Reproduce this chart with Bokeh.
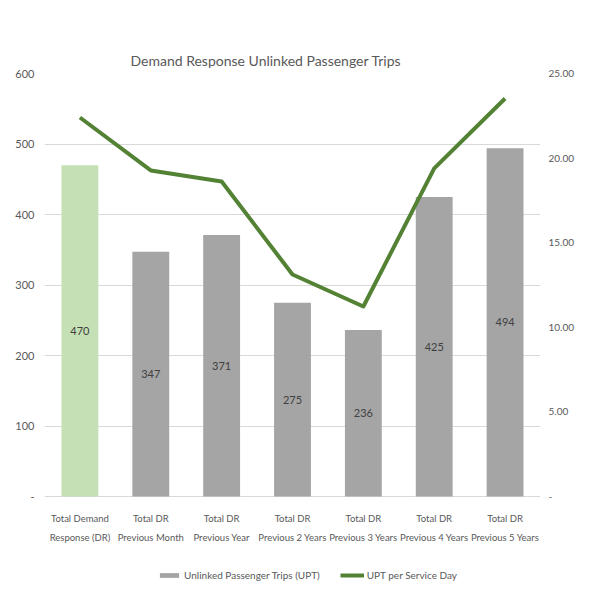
from bokeh.plotting import figure
from bokeh.models import (ColumnDataSource, Range1d, LinearAxis, FixedTicker,
                          Legend, LegendItem, Title)
from bokeh.embed import file_html
from bokeh.resources import INLINE
from bokeh.core.properties import value

# ---- data ----
categories = ["Total Demand\nResponse (DR)", "Total DR\nPrevious Month",
              "Total DR\nPrevious Year", "Total DR\nPrevious 2 Years",
              "Total DR\nPrevious 3 Years", "Total DR\nPrevious 4 Years",
              "Total DR\nPrevious 5 Years"]
upt = [470, 347, 371, 275, 236, 425, 494]
upt_per_day = [22.4, 19.27, 18.62, 13.12, 11.23, 19.39, 23.52]
left_ticks = [0, 100, 200, 300, 400, 500, 600]
left_tick_labels = ["-", "100", "200", "300", "400", "500", "600"]
right_ticks = [0, 5, 10, 15, 20, 25]
right_tick_labels = ["-", "5.00", "10.00", "15.00", "20.00", "25.00"]
title_text = "Demand Response Unlinked Passenger Trips"
bar_series = "Unlinked Passenger Trips (UPT)"
line_series = "UPT per Service Day"

FONT = "Lato"
TXT = "#595959"
GRID = "#D9D9D9"
GRAY = "#A5A5A5"
LIGHT_GREEN = "#C5E0B4"
GREEN = "#548235"

# layout (pixels)
PLOT_H = 423          # height of the 0..600 value area
BELOW_H = 88          # room under the zero line for category labels + legend
L_MAX = max(left_ticks)
R_MAX = max(right_ticks)
px_per_unit = PLOT_H / L_MAX
y_low = -BELOW_H / px_per_unit
cat_label_y = -31.5 / px_per_unit

colors = [LIGHT_GREEN if i == 0 else GRAY for i in range(len(categories))]
src = ColumnDataSource(dict(cat=categories, upt=upt, half=[v / 2 for v in upt],
                            lbl=[str(v) for v in upt], rate=upt_per_day,
                            color=colors,
                            laby=[cat_label_y] * len(categories)))

p = figure(x_range=categories, y_range=Range1d(y_low, L_MAX),
           frame_width=496, frame_height=PLOT_H + BELOW_H,
           output_backend="svg", toolbar_location=None,
           min_border_left=44, min_border_right=35, min_border_top=73,
           min_border_bottom=1)
p.extra_y_ranges = {"rate": Range1d(y_low * R_MAX / L_MAX, R_MAX)}
p.outline_line_color = None
p.background_fill_color = "white"
p.border_fill_color = "white"

# real title, then an invisible spacer title between it and the frame
p.title.text = " "
p.title.text_font_size = "1px"
main_title = Title(text=title_text, align="left", offset=86,
                   text_font=FONT, text_font_size="14px",
                   text_font_style="normal", text_color=TXT)
p.add_layout(main_title, "above")
spacer = Title(text=".", text_alpha=0, text_font_size="19px", standoff=0)
p.add_layout(spacer, "above")

bars = p.vbar(x="cat", top="upt", width=0.52, fill_color="color",
              line_color=None, source=src)
line = p.line(x="cat", y="rate", y_range_name="rate", line_color=GREEN,
              line_width=4, line_join="round", source=src)
p.text(x="cat", y="half", text="lbl", source=src, text_align="center",
       text_baseline="middle", text_font=value(FONT), text_font_size="11px",
       text_color="#404040")
# category labels
p.text(x="cat", y="laby", text="cat", source=src, text_align="center",
       text_baseline="middle", text_font=value(FONT), text_font_size="9.5px",
       text_color=TXT, text_line_height=1.75)

# grid
p.xgrid.grid_line_color = None
p.ygrid.grid_line_color = GRID
p.ygrid.ticker = FixedTicker(ticks=left_ticks)
p.xaxis.visible = False

# left axis
ax = p.yaxis[0]
ax.ticker = FixedTicker(ticks=left_ticks)
ax.major_label_overrides = dict(zip(left_ticks, left_tick_labels))
ax.axis_line_color = None
ax.major_tick_line_color = None
ax.minor_tick_line_color = None
ax.major_tick_out = 0
ax.major_label_text_font = FONT
ax.major_label_text_font_size = "11px"
ax.major_label_text_color = TXT
ax.major_label_standoff = 10

# right axis
rax = LinearAxis(y_range_name="rate", ticker=FixedTicker(ticks=right_ticks))
rax.major_label_overrides = dict(zip(right_ticks, right_tick_labels))
rax.axis_line_color = None
rax.major_tick_line_color = None
rax.minor_tick_line_color = None
rax.major_tick_out = 0
rax.major_label_text_font = FONT
rax.major_label_text_font_size = "10px"
rax.major_label_text_color = TXT
rax.major_label_standoff = 8
p.add_layout(rax, "right")

legend = Legend(items=[LegendItem(label=bar_series, renderers=[bars], index=1),
                       LegendItem(label=line_series, renderers=[line])],
                orientation="horizontal", location=(113, 3),
                border_line_color=None, background_fill_alpha=0,
                label_text_font=FONT, label_text_font_size="10px",
                label_text_color=TXT, glyph_width=24, glyph_height=6,
                label_standoff=3, spacing=20, padding=0, margin=0)
p.add_layout(legend)

open("out.html", "w").write(file_html(p, INLINE))
